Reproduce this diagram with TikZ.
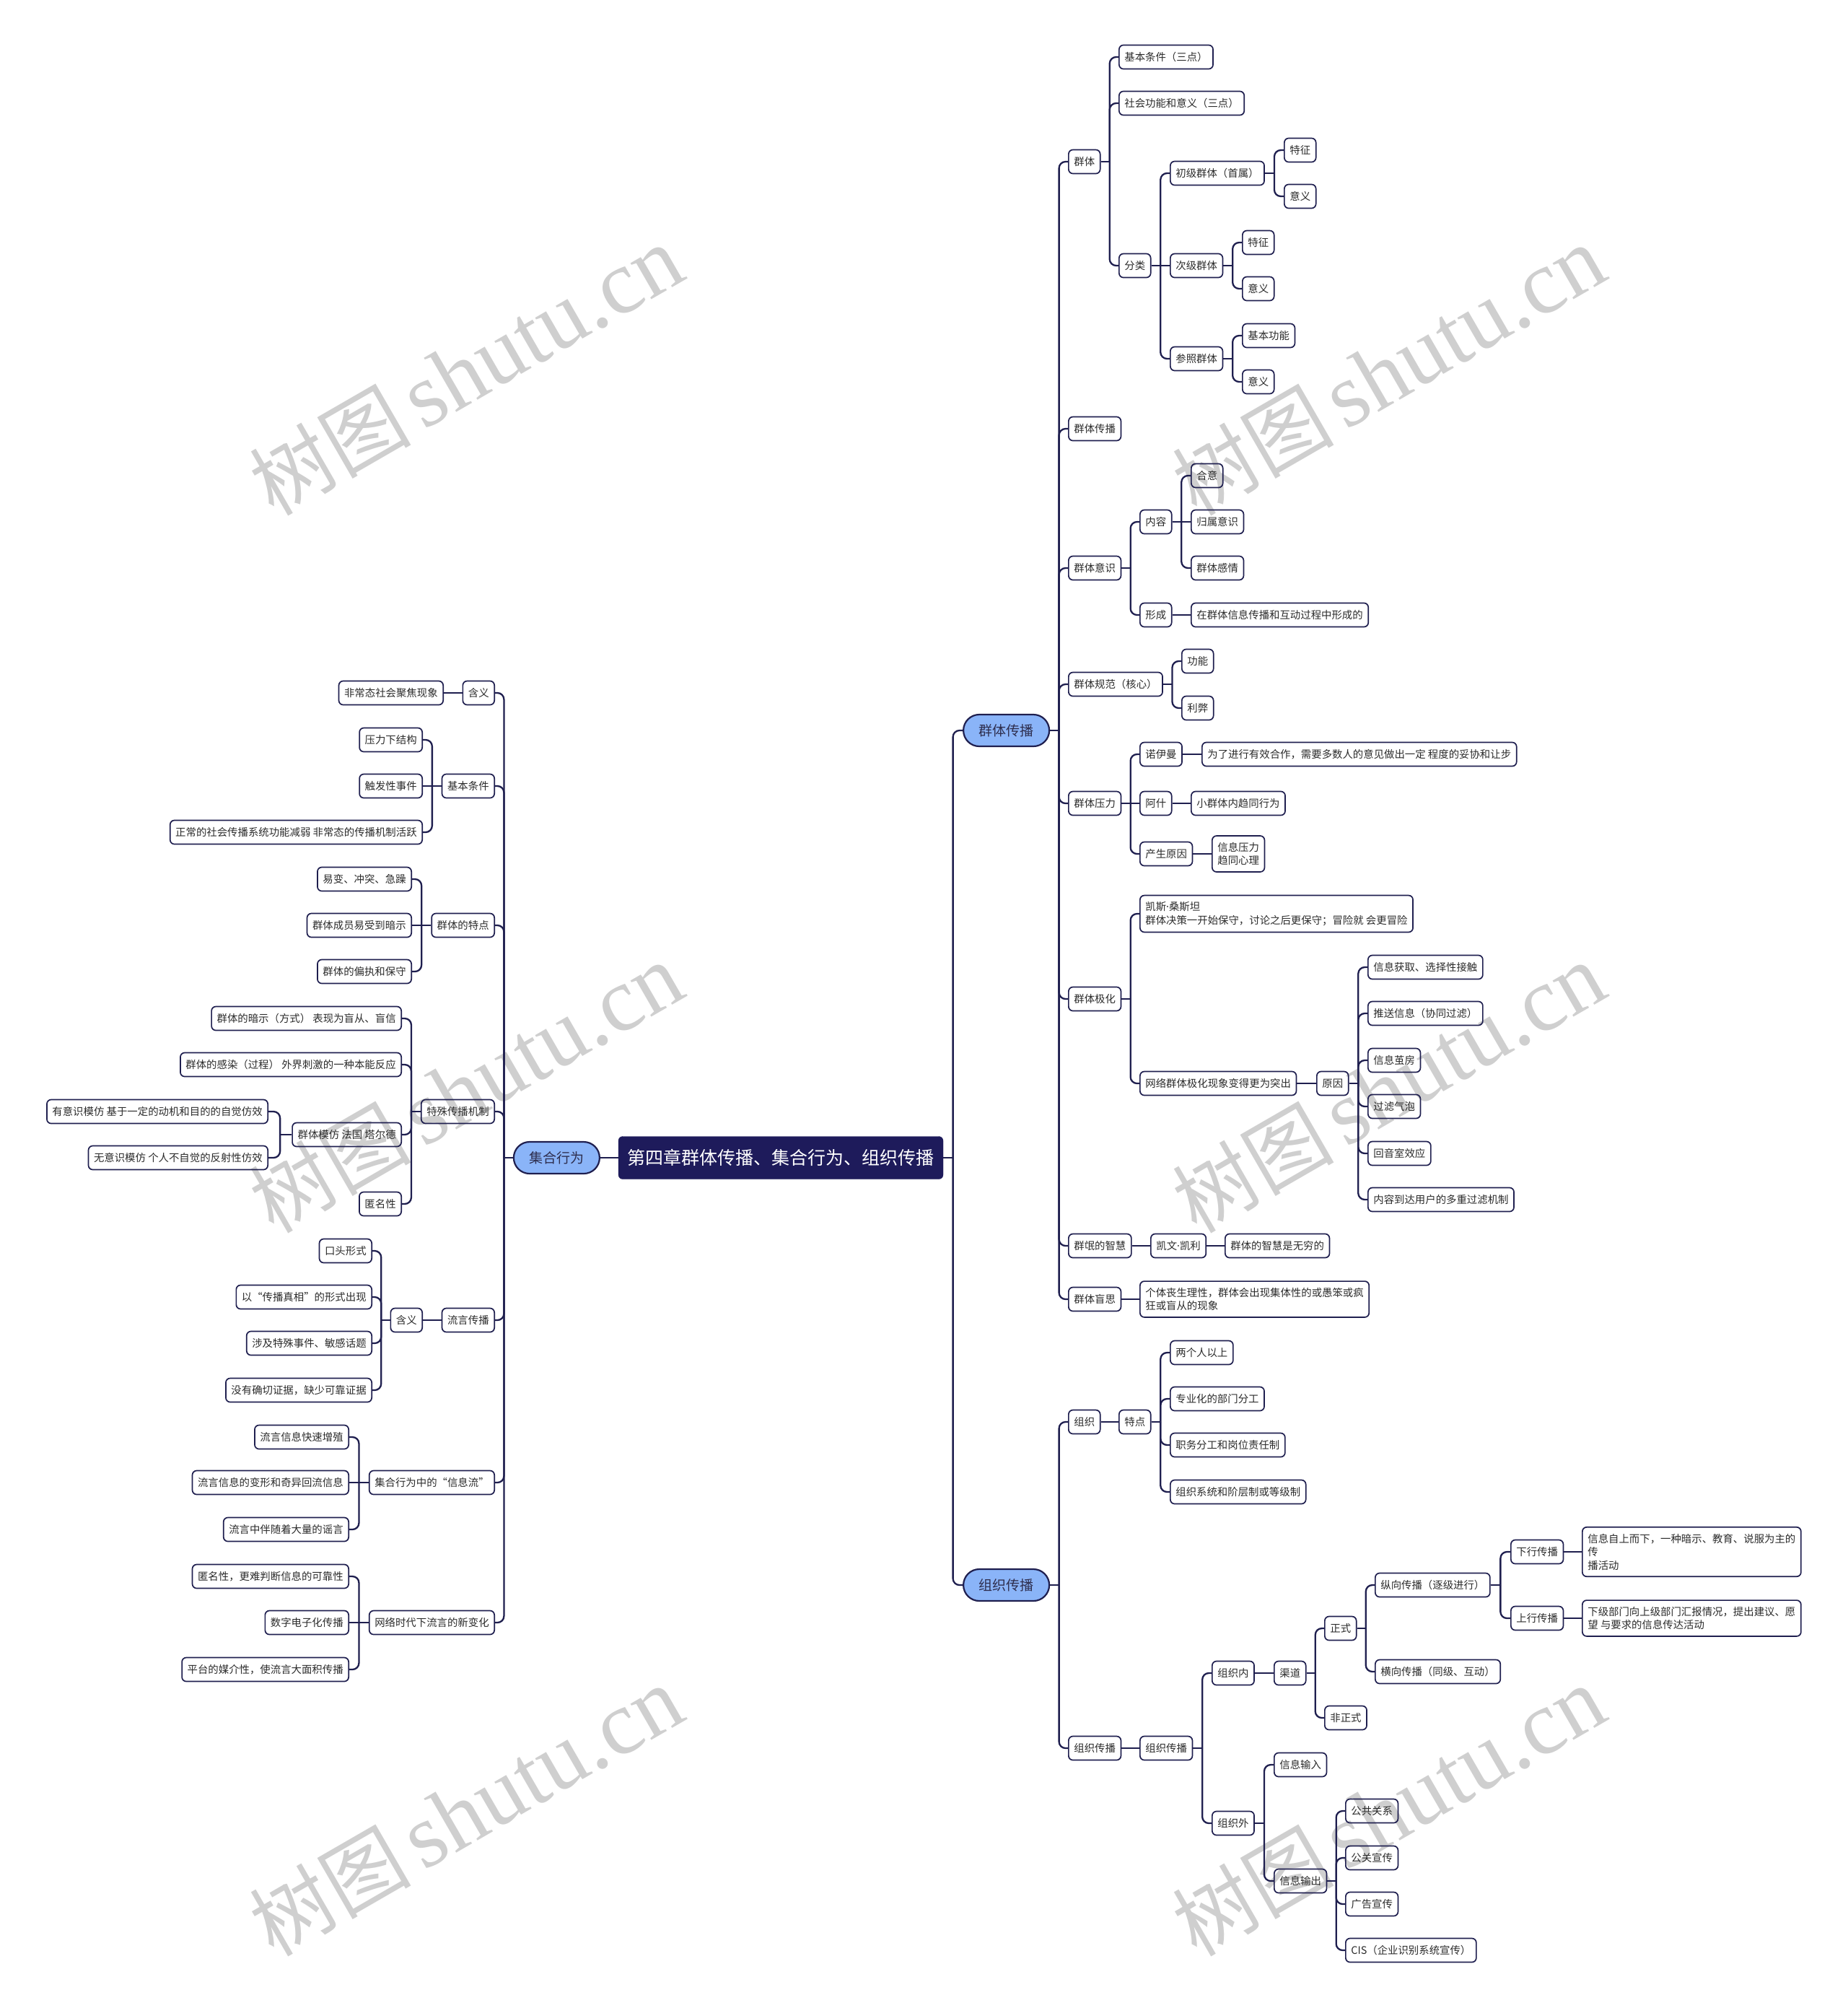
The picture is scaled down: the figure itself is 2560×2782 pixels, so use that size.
\documentclass[tikz,border=0pt]{standalone}
\usepackage{fontspec}
\newfontfamily\cjk{Noto Sans CJK SC}
\newfontfamily\lat{Noto Sans}
\newfontfamily\wmserif{Liberation Serif}
\usetikzlibrary{calc}
\definecolor{navy}{HTML}{1F1F4F}
\definecolor{rootc}{HTML}{1E1B5B}
\definecolor{lblue}{HTML}{8AB4F8}
\definecolor{txt}{HTML}{2B2B2B}
\definecolor{l1txt}{HTML}{2E2E4E}
\newcommand\nodefont{\cjk\fontsize{14.4}{18.5}\selectfont}
\newcommand\lonefont{\cjk\fontsize{19}{23}\selectfont}
\newcommand\rootfont{\cjk\fontsize{25}{30}\selectfont}
\newcommand\mdot{{\lat ·}}
\newcommand\rlnk[2]{\draw[conn,sharp corners] (#1.east) -- ($(#1.east)!.5!(#1.east-|#2.west)$);
  \draw[conn] ($(#1.east)!.5!(#1.east-|#2.west)$) |- (#2.west);}
\newcommand\llnk[2]{\draw[conn,sharp corners] (#1.west) -- ($(#1.west)!.5!(#1.west-|#2.east)$);
  \draw[conn] ($(#1.west)!.5!(#1.west-|#2.east)$) |- (#2.east);}
\newcommand\rstr[2]{\draw[conn] (#1.east) -- (#2.west);}
\newcommand\lstr[2]{\draw[conn] (#1.west) -- (#2.east);}
\tikzset{
  box/.style={draw=navy, line width=1.7pt, rounded corners=6pt, inner xsep=7.5pt,
    inner ysep=9pt, minimum height=33pt, font=\nodefont, text=txt, align=left},
  rb/.style={box, anchor=west},
  lb/.style={box, anchor=east},
  lone/.style={draw=navy, line width=2.2pt, fill=lblue, rounded corners=22pt,
    minimum height=44pt, minimum width=119pt, font=\lonefont, text=l1txt, inner sep=0pt},
  rootbox/.style={fill=rootc, draw=rootc, rounded corners=6pt, minimum height=59pt,
    inner xsep=12.5pt, inner ysep=0pt, font=\rootfont, text=white},
  conn/.style={draw=navy, line width=2.3pt, rounded corners=9pt},
  wm/.style={rotate=30, text=black!19, inner sep=0pt}
}
\begin{document}
\begin{tikzpicture}[x=1pt,y=-1pt]
\path[use as bounding box] (0,0) rectangle (2560,2782);
% watermark
\foreach \px/\py [count=\i] in {646/514,1924/514,646/1508,1924/1508,646/2510,1924/2510}
  \node[wm] (wm\i) at (\px,\py) {{\cjk\fontsize{112}{120}\selectfont 树图}\hspace{16pt}{\wmserif\fontsize{126}{130}\selectfont shutu.cn}};

% root and main branches
\node[rootbox] (R) at (1082,1604) {第四章群体传播、集合行为、组织传播};
\node[lone,anchor=west] (Q) at (1334,1012) {群体传播};
\node[lone,anchor=west] (Z) at (1334,2196) {组织传播};
\node[lone,anchor=east] (J) at (832,1604) {集合行为};

% ===== 群体传播 =====
\node[rb] (q1) at (1480,224) {群体};
\node[rb] (q2) at (1480,594) {群体传播};
\node[rb] (q3) at (1480,787) {群体意识};
\node[rb] (q4) at (1480,948) {群体规范（核心）};
\node[rb] (q5) at (1480,1113) {群体压力};
\node[rb] (q6) at (1480,1384) {群体极化};
\node[rb] (q7) at (1480,1726) {群氓的智慧};
\node[rb] (q8) at (1480,1800) {群体盲思};

\node[rb] (q1a) at (1550,79) {基本条件（三点）};
\node[rb] (q1b) at (1550,143) {社会功能和意义（三点）};
\node[rb] (q1c) at (1550,368) {分类};
\node[rb] (c1) at (1621,240) {初级群体（首属）};
\node[rb] (c2) at (1621,368) {次级群体};
\node[rb] (c3) at (1621,497) {参照群体};
\node[rb] (c1a) at (1779,208) {特征};
\node[rb] (c1b) at (1779,272) {意义};
\node[rb] (c2a) at (1721,336) {特征};
\node[rb] (c2b) at (1721,400) {意义};
\node[rb] (c3a) at (1721,465) {基本功能};
\node[rb] (c3b) at (1721,529) {意义};

\node[rb] (q3a) at (1579,723) {内容};
\node[rb] (q3b) at (1579,852) {形成};
\node[rb] (n1) at (1650,659) {合意};
\node[rb] (n2) at (1650,723) {归属意识};
\node[rb] (n3) at (1650,787) {群体感情};
\node[rb] (n4) at (1650,852) {在群体信息传播和互动过程中形成的};

\node[rb] (q4a) at (1637,916) {功能};
\node[rb] (q4b) at (1637,981) {利弊};

\node[rb] (p1) at (1579,1045) {诺伊曼};
\node[rb] (p2) at (1579,1113) {阿什};
\node[rb] (p3) at (1579,1183) {产生原因};
\node[rb] (p1a) at (1665,1045) {为了进行有效合作，需要多数人的意见做出一定 程度的妥协和让步};
\node[rb] (p2a) at (1650,1113) {小群体内趋同行为};
\node[rb] (p3a) at (1679,1183) {信息压力\\趋同心理};

\node[rb] (j1) at (1579,1266) {凯斯\mdot 桑斯坦\\群体决策一开始保守，讨论之后更保守；冒险就 会更冒险};
\node[rb] (j2) at (1579,1501) {网络群体极化现象变得更为突出};
\node[rb] (j3) at (1824,1501) {原因};
\node[rb] (r1) at (1895,1340) {信息获取、选择性接触};
\node[rb] (r2) at (1895,1404) {推送信息（协同过滤）};
\node[rb] (r3) at (1895,1469) {信息茧房};
\node[rb] (r4) at (1895,1533) {过滤气泡};
\node[rb] (r5) at (1895,1598) {回音室效应};
\node[rb] (r6) at (1895,1662) {内容到达用户的多重过滤机制};

\node[rb] (k1) at (1594,1726) {凯文\mdot 凯利};
\node[rb] (k2) at (1697,1726) {群体的智慧是无穷的};
\node[rb] (m1) at (1579,1800) {个体丧生理性，群体会出现集体性的或愚笨或疯\\狂或盲从的现象};

% ===== 组织传播 =====
\node[rb] (z1) at (1480,1970) {组织};
\node[rb] (z2) at (1480,2422) {组织传播};
\node[rb] (z1a) at (1550,1970) {特点};
\node[rb] (t1) at (1621,1874) {两个人以上};
\node[rb] (t2) at (1621,1938) {专业化的部门分工};
\node[rb] (t3) at (1621,2002) {职务分工和岗位责任制};
\node[rb] (t4) at (1621,2067) {组织系统和阶层制或等级制};
\node[rb] (z3) at (1579,2422) {组织传播};
\node[rb] (o1) at (1679,2318) {组织内};
\node[rb] (o2) at (1679,2526) {组织外};
\node[rb] (o1a) at (1765,2318) {渠道};
\node[rb] (f1) at (1835,2256) {正式};
\node[rb] (f2) at (1835,2380) {非正式};
\node[rb] (v1) at (1905,2196) {纵向传播（逐级进行）};
\node[rb] (v2) at (1905,2316) {横向传播（同级、互动）};
\node[rb] (d1) at (2093,2150) {下行传播};
\node[rb] (d2) at (2093,2242) {上行传播};
\node[rb] (d1a) at (2192,2150) {信息自上而下，一种暗示、教育、说服为主的\\传\\播活动};
\node[rb] (d2a) at (2192,2242) {下级部门向上级部门汇报情况，提出建议、愿\\望 与要求的信息传达活动};
\node[rb] (w1) at (1765,2445) {信息输入};
\node[rb] (w2) at (1765,2606) {信息输出};
\node[rb] (e1) at (1864,2509) {公共关系};
\node[rb] (e2) at (1864,2574) {公关宣传};
\node[rb] (e3) at (1864,2638) {广告宣传};
\node[rb] (e4) at (1864,2702) {CIS（企业识别系统宣传）};

% ===== 集合行为 =====
\node[lb] (L1) at (686,960) {含义};
\node[lb] (L2) at (686,1089) {基本条件};
\node[lb] (L3) at (686,1282) {群体的特点};
\node[lb] (L4) at (686,1540) {特殊传播机制};
\node[lb] (L5) at (686,1829) {流言传播};
\node[lb] (L6) at (686,2054) {集合行为中的“信息流”};
\node[lb] (L7) at (686,2248) {网络时代下流言的新变化};

\node[lb] (L1a) at (615,960) {非常态社会聚焦现象};
\node[lb] (b1) at (586,1025) {压力下结构};
\node[lb] (b2) at (586,1089) {触发性事件};
\node[lb] (b3) at (586,1153) {正常的社会传播系统功能减弱 非常态的传播机制活跃};
\node[lb] (s1) at (571,1218) {易变、冲突、急躁};
\node[lb] (s2) at (571,1282) {群体成员易受到暗示};
\node[lb] (s3) at (571,1346) {群体的偏执和保守};
\node[lb] (x1) at (557,1411) {群体的暗示（方式） 表现为盲从、盲信};
\node[lb] (x2) at (557,1475) {群体的感染（过程） 外界刺激的一种本能反应};
\node[lb] (x3) at (557,1572) {群体模仿 法国 塔尔德};
\node[lb] (x4) at (557,1668) {匿名性};
\node[lb] (y1) at (372,1540) {有意识模仿 基于一定的动机和目的的自觉仿效};
\node[lb] (y2) at (372,1604) {无意识模仿 个人不自觉的反射性仿效};
\node[lb] (L5a) at (586,1829) {含义};
\node[lb] (h1) at (516,1733) {口头形式};
\node[lb] (h2) at (516,1797) {以“传播真相”的形式出现};
\node[lb] (h3) at (516,1861) {涉及特殊事件、敏感话题};
\node[lb] (h4) at (516,1926) {没有确切证据，缺少可靠证据};
\node[lb] (g1) at (484,1991) {流言信息快速增殖};
\node[lb] (g2) at (484,2054) {流言信息的变形和奇异回流信息};
\node[lb] (g3) at (484,2119) {流言中伴随着大量的谣言};
\node[lb] (u1) at (484,2184) {匿名性，更难判断信息的可靠性};
\node[lb] (u2) at (484,2248) {数字电子化传播};
\node[lb] (u3) at (484,2313) {平台的媒介性，使流言大面积传播};

% ===== connectors =====
\rlnk{R}{Q} \rlnk{R}{Z} \lstr{R}{J}
\rlnk{Q}{q1} \rlnk{Q}{q2} \rlnk{Q}{q3} \rlnk{Q}{q4} \rlnk{Q}{q5} \rlnk{Q}{q6} \rlnk{Q}{q7} \rlnk{Q}{q8}
\rlnk{q1}{q1a} \rlnk{q1}{q1b} \rlnk{q1}{q1c}
\rlnk{q1c}{c1} \rstr{q1c}{c2} \rlnk{q1c}{c3}
\rlnk{c1}{c1a} \rlnk{c1}{c1b}
\rlnk{c2}{c2a} \rlnk{c2}{c2b}
\rlnk{c3}{c3a} \rlnk{c3}{c3b}
\rlnk{q3}{q3a} \rlnk{q3}{q3b}
\rlnk{q3a}{n1} \rstr{q3a}{n2} \rlnk{q3a}{n3}
\rstr{q3b}{n4}
\rlnk{q4}{q4a} \rlnk{q4}{q4b}
\rlnk{q5}{p1} \rstr{q5}{p2} \rlnk{q5}{p3}
\rstr{p1}{p1a} \rstr{p2}{p2a} \rstr{p3}{p3a}
\rlnk{q6}{j1} \rlnk{q6}{j2}
\rstr{j2}{j3}
\rlnk{j3}{r1} \rlnk{j3}{r2} \rlnk{j3}{r3} \rlnk{j3}{r4} \rlnk{j3}{r5} \rlnk{j3}{r6}
\rstr{q7}{k1} \rstr{k1}{k2}
\rstr{q8}{m1}
\rlnk{Z}{z1} \rlnk{Z}{z2}
\rstr{z1}{z1a}
\rlnk{z1a}{t1} \rlnk{z1a}{t2} \rlnk{z1a}{t3} \rlnk{z1a}{t4}
\rstr{z2}{z3}
\rlnk{z3}{o1} \rlnk{z3}{o2}
\rstr{o1}{o1a}
\rlnk{o1a}{f1} \rlnk{o1a}{f2}
\rlnk{f1}{v1} \rlnk{f1}{v2}
\rlnk{v1}{d1} \rlnk{v1}{d2}
\rstr{d1}{d1a} \rstr{d2}{d2a}
\rlnk{o2}{w1} \rlnk{o2}{w2}
\rlnk{w2}{e1} \rlnk{w2}{e2} \rlnk{w2}{e3} \rlnk{w2}{e4}
\llnk{J}{L1} \llnk{J}{L2} \llnk{J}{L3} \llnk{J}{L4} \llnk{J}{L5} \llnk{J}{L6} \llnk{J}{L7}
\lstr{L1}{L1a}
\llnk{L2}{b1} \lstr{L2}{b2} \llnk{L2}{b3}
\llnk{L3}{s1} \lstr{L3}{s2} \llnk{L3}{s3}
\llnk{L4}{x1} \llnk{L4}{x2} \llnk{L4}{x3} \llnk{L4}{x4}
\llnk{x3}{y1} \llnk{x3}{y2}
\lstr{L5}{L5a}
\llnk{L5a}{h1} \llnk{L5a}{h2} \llnk{L5a}{h3} \llnk{L5a}{h4}
\llnk{L6}{g1} \lstr{L6}{g2} \llnk{L6}{g3}
\llnk{L7}{u1} \lstr{L7}{u2} \llnk{L7}{u3}
\end{tikzpicture}
\end{document}
